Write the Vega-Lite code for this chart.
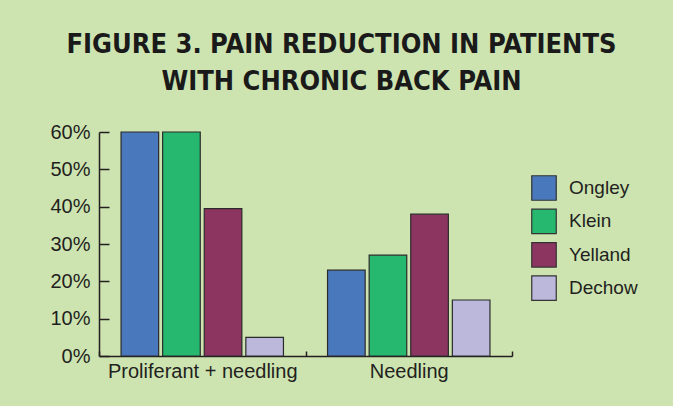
{
  "$schema": "https://vega.github.io/schema/vega-lite/v6.json",
  "width": 413,
  "height": 224,
  "autosize": "none",
  "padding": {"left": 99, "top": 132, "right": 161, "bottom": 50},
  "background": "#cde4b1",
  "title": {
    "text": ["FIGURE 3. PAIN REDUCTION IN PATIENTS", "WITH CHRONIC BACK PAIN"],
    "font": "DejaVu Sans Condensed",
    "fontSize": 27,
    "fontWeight": "bold",
    "color": "#1a1a1a",
    "anchor": "middle",
    "frame": "group",
    "dx": 36,
    "lineHeight": 37,
    "offset": 26
  },
  "data": {
    "values": [
      {"group": "Proliferant + needling", "author": "Ongley", "value": 60},
      {"group": "Proliferant + needling", "author": "Klein", "value": 60},
      {"group": "Proliferant + needling", "author": "Yelland", "value": 39.5},
      {"group": "Proliferant + needling", "author": "Dechow", "value": 5},
      {"group": "Needling", "author": "Ongley", "value": 23},
      {"group": "Needling", "author": "Klein", "value": 27},
      {"group": "Needling", "author": "Yelland", "value": 38},
      {"group": "Needling", "author": "Dechow", "value": 15}
    ]
  },
  "mark": {"type": "bar", "stroke": "#2b2b2b", "strokeWidth": 1.2},
  "encoding": {
    "x": {
      "field": "group",
      "type": "nominal",
      "sort": ["Proliferant + needling", "Needling"],
      "scale": {"paddingInner": 0, "paddingOuter": 0},
      "axis": {
        "title": null,
        "labelAngle": 0,
        "labelLimit": 0,
        "tickBand": "extent",
        "tickSize": -5,
        "labelPadding": 10,
        "labelFontSize": 20,
        "labelFont": "Liberation Sans",
        "labelColor": "#231f20",
        "domainColor": "#231f20",
        "tickColor": "#231f20",
        "domainWidth": 1.5,
        "tickWidth": 1.5
      }
    },
    "y": {
      "field": "value",
      "type": "quantitative",
      "scale": {"domain": [0, 60]},
      "axis": {
        "title": null,
        "values": [0, 10, 20, 30, 40, 50, 60],
        "labelExpr": "datum.value + '%'",
        "tickSize": -10,
        "labelPadding": 19,
        "grid": false,
        "labelFontSize": 20,
        "labelFont": "Liberation Sans",
        "labelColor": "#231f20",
        "domainColor": "#231f20",
        "tickColor": "#231f20",
        "domainWidth": 1.5,
        "tickWidth": 1.5
      }
    },
    "xOffset": {
      "field": "author",
      "sort": ["Ongley", "Klein", "Yelland", "Dechow"],
      "scale": {"paddingInner": 0.096, "paddingOuter": 0.53}
    },
    "color": {
      "field": "author",
      "type": "nominal",
      "sort": ["Ongley", "Klein", "Yelland", "Dechow"],
      "scale": {
        "domain": ["Ongley", "Klein", "Yelland", "Dechow"],
        "range": ["#4a78bc", "#27b870", "#8c3560", "#bbb8dc"]
      },
      "legend": {
        "orient": "none",
        "legendX": 432,
        "legendY": 43,
        "title": null,
        "symbolType": "square",
        "symbolSize": 600,
        "symbolStrokeColor": "#333333",
        "symbolStrokeWidth": 1.2,
        "symbolOpacity": 1,
        "labelFontSize": 19,
        "labelFont": "Liberation Sans",
        "labelColor": "#231f20",
        "rowPadding": 3.4,
        "labelOffset": 12
      }
    }
  },
  "config": {"view": {"stroke": null}}
}
